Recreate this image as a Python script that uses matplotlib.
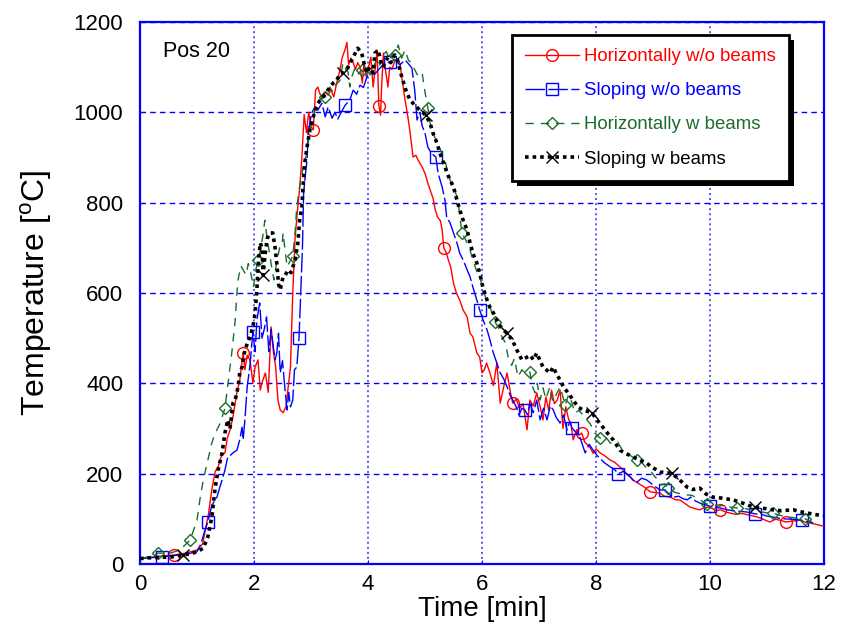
import numpy as np
import matplotlib
matplotlib.use("Agg")
import matplotlib.pyplot as plt
from matplotlib.patches import Rectangle

plt.rcParams['font.family'] = ['Liberation Sans', 'DejaVu Sans']
plt.rcParams['mathtext.fontset'] = 'custom'
plt.rcParams['mathtext.rm'] = 'Liberation Sans'

# ---------------- data ----------------
RED_T = [0.0, 0.2, 0.4, 0.6, 0.8, 1.0, 1.1, 1.2, 1.26, 1.32,
         1.37, 1.43, 1.49, 1.53, 1.58, 1.63, 1.7, 1.75, 1.81, 1.84,
         1.88, 1.93, 1.98, 2.02, 2.07, 2.11, 2.15, 2.2, 2.25, 2.3,
         2.34, 2.38, 2.42, 2.46, 2.51, 2.56, 2.6, 2.64, 2.68, 2.72,
         2.76, 2.8, 2.84, 2.88, 2.92, 2.96, 3.0, 3.04, 3.08, 3.12,
         3.16, 3.2, 3.25, 3.3, 3.35, 3.4, 3.45, 3.5, 3.55, 3.6,
         3.63, 3.66, 3.7, 3.74, 3.78, 3.82, 3.86, 3.9, 3.93, 3.97,
         4.01, 4.05, 4.09, 4.13, 4.16, 4.19, 4.22, 4.24, 4.27, 4.3,
         4.35, 4.38, 4.42, 4.46, 4.5, 4.56, 4.6, 4.65, 4.7, 4.74,
         4.79, 4.84, 4.88, 4.95, 5.0, 5.05, 5.09, 5.14, 5.18, 5.22,
         5.27, 5.3, 5.33, 5.37, 5.41, 5.45, 5.5, 5.55, 5.61, 5.67,
         5.74, 5.79, 5.84, 5.91, 5.96, 6.0, 6.04, 6.08, 6.14, 6.2,
         6.26, 6.32, 6.38, 6.44, 6.5, 6.54, 6.6, 6.66, 6.72, 6.79,
         6.84, 6.9, 6.96, 7.02, 7.07, 7.12, 7.17, 7.22, 7.27, 7.32,
         7.37, 7.42, 7.47, 7.52, 7.56, 7.6, 7.66, 7.7, 7.75, 7.8,
         7.89, 7.95, 8.0, 8.07, 8.15, 8.25, 8.33, 8.42, 8.5, 8.58,
         8.65, 8.75, 8.85, 8.95, 9.05, 9.12, 9.2, 9.3, 9.4, 9.47,
         9.55, 9.65, 9.75, 9.82, 9.9, 10.0, 10.1, 10.18, 10.28, 10.35,
         10.45, 10.55, 10.7, 10.8, 10.88, 10.95, 11.05, 11.15, 11.23, 11.33,
         11.45, 11.58, 11.68, 11.75, 11.85, 11.95, 12.0]
RED_V = [12, 15, 18, 20, 24, 31, 45, 110, 165, 205,
         215, 240, 246, 278, 297, 325, 380, 407, 468, 430,
         462, 452, 400, 436, 452, 385, 405, 423, 380, 525,
         470, 436, 363, 341, 335, 348, 392, 436, 600, 720,
         780, 830, 900, 995, 955, 1000, 968, 961, 1049, 1056,
         1040, 1030, 1045, 1038, 1050, 1034, 1065, 1090, 1122, 1140,
         1155, 1105, 1120, 1110, 1095, 1110, 1100, 1065, 1110, 1078,
         1100, 1122, 1056, 1100, 1138, 1015, 994, 1060, 1131, 1100,
         1056, 1100, 1095, 1110, 1116, 1109, 1071, 1027, 990, 954,
         901, 905, 894, 879, 865, 843, 828, 810, 784, 768,
         760, 740, 700, 690, 673, 658, 622, 600, 584, 562,
         547, 511, 503, 467, 458, 423, 430, 445, 423, 395,
         445, 356, 392, 423, 379, 356, 365, 345, 355, 297,
         363, 350, 379, 348, 319, 370, 340, 385, 355, 363,
         385, 300, 348, 320, 310, 275, 297, 285, 290, 270,
         259, 245, 255, 246, 240, 230, 225, 215, 205, 195,
         186, 178, 170, 160, 158, 157, 150, 148, 142, 142,
         135, 126, 122, 120, 125, 126, 118, 120, 115, 113,
         110, 112, 108, 105, 102, 98, 93, 99, 97, 93,
         95, 97, 92, 91, 88, 85, 84]
RED_MARKS = [0.6, 1.81, 3.04, 4.19, 5.33, 6.54, 7.75, 8.95, 10.18, 11.33]

BLUE_T = [0.0, 0.2, 0.39, 0.55, 0.7, 0.85, 1.0, 1.07, 1.14, 1.19,
          1.26, 1.35, 1.4, 1.45, 1.49, 1.54, 1.58, 1.63, 1.7, 1.75,
          1.79, 1.81, 1.84, 1.88, 1.93, 1.98, 2.02, 2.05, 2.1, 2.14,
          2.18, 2.22, 2.26, 2.3, 2.34, 2.37, 2.4, 2.43, 2.46, 2.5,
          2.54, 2.58, 2.61, 2.64, 2.68, 2.71, 2.75, 2.79, 2.82, 2.85,
          2.87, 2.9, 2.93, 2.95, 3.01, 3.07, 3.12, 3.19, 3.25, 3.3,
          3.37, 3.42, 3.47, 3.53, 3.6, 3.68, 3.74, 3.8, 3.86, 3.92,
          3.98, 4.04, 4.12, 4.21, 4.3, 4.39, 4.47, 4.56, 4.65, 4.7,
          4.77, 4.82, 4.86, 4.91, 4.95, 5.0, 5.05, 5.1, 5.15, 5.19,
          5.23, 5.3, 5.35, 5.38, 5.44, 5.5, 5.56, 5.61, 5.67, 5.74,
          5.79, 5.84, 5.91, 5.96, 6.02, 6.09, 6.14, 6.2, 6.26, 6.32,
          6.38, 6.44, 6.49, 6.54, 6.6, 6.65, 6.7, 6.75, 6.8, 6.84,
          6.9, 6.96, 7.02, 7.08, 7.14, 7.2, 7.25, 7.3, 7.37, 7.43,
          7.49, 7.54, 7.58, 7.66, 7.72, 7.81, 7.88, 7.95, 8.02, 8.1,
          8.16, 8.25, 8.32, 8.39, 8.48, 8.6, 8.7, 8.8, 8.89, 9.0,
          9.12, 9.21, 9.28, 9.35, 9.45, 9.52, 9.6, 9.66, 9.74, 9.82,
          9.9, 10.0, 10.08, 10.18, 10.3, 10.4, 10.5, 10.65, 10.79, 10.9,
          11.0, 11.1, 11.18, 11.3, 11.45, 11.61, 11.7, 11.81]
BLUE_V = [12, 14, 16, 18, 20, 23, 27, 45, 75, 93,
          130, 148, 170, 190, 208, 237, 240, 246, 252, 275,
          303, 275, 319, 392, 440, 514, 470, 540, 578, 500,
          520, 547, 470, 520, 480, 452, 467, 511, 423, 450,
          392, 341, 380, 348, 363, 430, 436, 500, 600, 700,
          820, 860, 894, 954, 998, 1012, 1005, 1020, 990, 1012,
          987, 1000, 985, 1000, 1016, 1027, 1049, 1040, 1060, 1055,
          1078, 1089, 1085, 1098, 1109, 1111, 1116, 1105, 1116, 1109,
          1098, 1049, 983, 1000, 970, 954, 923, 912, 905, 901,
          865, 835, 806, 768, 755, 733, 711, 688, 673, 651,
          636, 613, 584, 562, 540, 518, 496, 467, 445, 423,
          410, 392, 375, 363, 348, 330, 345, 341, 330, 356,
          335, 363, 319, 345, 319, 350, 341, 325, 312, 330,
          297, 315, 301, 290, 280, 246, 265, 252, 240, 230,
          223, 215, 210, 200, 205, 193, 179, 190, 186, 175,
          164, 164, 155, 148, 150, 145, 142, 148, 140, 135,
          132, 128, 126, 124, 120, 118, 117, 115, 111, 110,
          106, 104, 102, 100, 99, 97, 94, 91]
BLUE_MARKS = [0.39, 1.19, 1.98, 2.79, 3.6, 4.39, 5.19, 5.96, 6.75, 7.58,
              8.39, 9.21, 10.0, 10.79, 11.61]

GREEN_T = [0.0, 0.15, 0.32, 0.53, 0.7, 0.88, 1.0, 1.05, 1.11, 1.19,
           1.26, 1.32, 1.4, 1.49, 1.55, 1.61, 1.67, 1.7, 1.72, 1.77,
           1.81, 1.86, 1.9, 1.95, 1.99, 2.03, 2.07, 2.12, 2.16, 2.19,
           2.23, 2.27, 2.31, 2.35, 2.4, 2.45, 2.49, 2.51, 2.55, 2.58,
           2.63, 2.68, 2.72, 2.75, 2.8, 2.85, 2.89, 2.93, 2.98, 3.04,
           3.1, 3.17, 3.25, 3.33, 3.38, 3.43, 3.51, 3.56, 3.61, 3.65,
           3.68, 3.72, 3.77, 3.83, 3.89, 3.95, 4.0, 4.04, 4.1, 4.16,
           4.21, 4.27, 4.32, 4.38, 4.43, 4.47, 4.53, 4.59, 4.65, 4.71,
           4.77, 4.82, 4.88, 4.95, 5.0, 5.05, 5.09, 5.14, 5.21, 5.26,
           5.35, 5.39, 5.44, 5.5, 5.58, 5.61, 5.65, 5.74, 5.79, 5.84,
           5.91, 5.96, 6.02, 6.09, 6.14, 6.23, 6.28, 6.35, 6.41, 6.46,
           6.52, 6.57, 6.63, 6.7, 6.77, 6.84, 6.88, 6.93, 6.97, 7.02,
           7.07, 7.12, 7.19, 7.24, 7.3, 7.37, 7.46, 7.52, 7.57, 7.63,
           7.7, 7.77, 7.84, 7.9, 7.98, 8.07, 8.15, 8.25, 8.3, 8.38,
           8.45, 8.55, 8.63, 8.72, 8.8, 8.87, 8.95, 9.02, 9.1, 9.15,
           9.2, 9.26, 9.33, 9.4, 9.5, 9.6, 9.68, 9.75, 9.85, 9.94,
           10.05, 10.15, 10.25, 10.35, 10.47, 10.6, 10.72, 10.85, 11.0, 11.1,
           11.22, 11.35, 11.45, 11.55, 11.67, 11.75, 11.81]
GREEN_V = [12, 16, 24, 24, 31, 53, 97, 142, 186, 230,
           268, 290, 310, 345, 407, 467, 540, 600, 629, 660,
           651, 640, 665, 640, 613, 650, 673, 700, 730, 761,
           720, 690, 658, 629, 670, 700, 702, 733, 690, 658,
           670, 682, 733, 790, 835, 870, 894, 910, 961, 990,
           1020, 1030, 1034, 1056, 1045, 1060, 1071, 1109, 1095, 1089,
           1056, 1080, 1098, 1085, 1094, 1080, 1090, 1083, 1100, 1122,
           1105, 1127, 1135, 1115, 1130, 1127, 1149, 1120, 1138, 1115,
           1109, 1094, 1080, 1087, 1045, 1010, 976, 954, 934, 920,
           894, 872, 850, 835, 806, 768, 733, 711, 695, 673,
           647, 636, 607, 580, 569, 536, 525, 503, 490, 458,
           440, 455, 414, 430, 420, 425, 395, 379, 400, 363,
           390, 365, 392, 360, 375, 392, 352, 375, 360, 334,
           340, 330, 319, 310, 290, 279, 285, 268, 265, 270,
           255, 245, 238, 230, 225, 215, 208, 195, 185, 175,
           178, 168, 162, 158, 155, 153, 152, 148, 140, 133,
           132, 128, 130, 126, 124, 123, 120, 117, 113, 113,
           108, 104, 103, 100, 100, 95, 91]
GREEN_MARKS = [0.32, 0.88, 1.49, 2.07, 2.68, 3.25, 3.89, 4.47, 5.05, 5.65,
               6.23, 6.84, 7.46, 8.07, 8.72, 9.26, 9.94, 10.47, 11.1, 11.67]

BLACK_T = [0.0, 0.2, 0.4, 0.53, 0.76, 0.9, 1.0, 1.11, 1.19, 1.26,
           1.32, 1.37, 1.44, 1.49, 1.54, 1.58, 1.63, 1.67, 1.72, 1.75,
           1.79, 1.84, 1.93, 1.98, 2.02, 2.05, 2.08, 2.11, 2.14, 2.16,
           2.19, 2.23, 2.28, 2.33, 2.37, 2.4, 2.43, 2.46, 2.51, 2.55,
           2.6, 2.65, 2.72, 2.77, 2.8, 2.84, 2.86, 2.89, 2.93, 2.98,
           3.04, 3.12, 3.21, 3.3, 3.39, 3.45, 3.51, 3.56, 3.65, 3.74,
           3.82, 3.89, 3.93, 3.98, 4.03, 4.09, 4.12, 4.18, 4.22, 4.26,
           4.35, 4.4, 4.47, 4.52, 4.56, 4.61, 4.68, 4.74, 4.82, 4.91,
           5.01, 5.09, 5.14, 5.21, 5.26, 5.32, 5.39, 5.44, 5.5, 5.56,
           5.61, 5.67, 5.74, 5.79, 5.84, 5.91, 5.96, 6.02, 6.09, 6.14,
           6.2, 6.28, 6.36, 6.44, 6.53, 6.61, 6.7, 6.79, 6.85, 6.9,
           6.96, 7.02, 7.07, 7.13, 7.19, 7.25, 7.31, 7.37, 7.43, 7.51,
           7.6, 7.68, 7.77, 7.85, 7.93, 8.02, 8.12, 8.2, 8.3, 8.42,
           8.52, 8.65, 8.77, 8.89, 9.0, 9.12, 9.22, 9.33, 9.47, 9.6,
           9.7, 9.82, 9.93, 10.05, 10.2, 10.4, 10.55, 10.67, 10.79, 10.9,
           11.1, 11.25, 11.46, 11.58, 11.7, 11.82, 11.93, 12.0]
BLACK_V = [12, 14, 15, 15, 20, 23, 27, 35, 60, 104,
           170, 208, 246, 290, 319, 300, 356, 363, 392, 423,
           436, 474, 503, 525, 556, 607, 673, 711, 700, 640,
           680, 720, 733, 733, 700, 666, 620, 607, 636, 640,
           651, 645, 673, 711, 761, 790, 835, 887, 923, 961,
           990, 1020, 1034, 1050, 1065, 1071, 1085, 1087, 1100, 1122,
           1142, 1131, 1109, 1087, 1100, 1087, 1131, 1138, 1115, 1100,
           1122, 1110, 1127, 1115, 1094, 1071, 1043, 1027, 1016, 1005,
           994, 976, 954, 932, 910, 890, 865, 850, 835, 806,
           784, 761, 739, 711, 688, 666, 644, 610, 584, 568,
           556, 533, 520, 511, 496, 474, 452, 458, 462, 452,
           467, 450, 436, 430, 423, 436, 420, 407, 392, 379,
           363, 348, 341, 338, 334, 319, 303, 290, 275, 252,
           245, 237, 230, 223, 213, 204, 202, 201, 186, 170,
           165, 168, 155, 148, 146, 142, 136, 130, 126, 124,
           120, 118, 120, 116, 113, 110, 108, 107]
BLACK_MARKS = [0.76, 2.16, 3.56, 5.01, 6.44, 7.93, 9.33, 10.79]

LABELS = ["Horizontally w/o beams", "Sloping w/o beams",
          "Horizontally w beams", "Sloping w beams"]
X_TICKS = [0, 2, 4, 6, 8, 10, 12]
Y_TICKS = [0, 200, 400, 600, 800, 1000, 1200]

RED = '#ff0000'
BLUE = '#0000ff'
GREEN = '#1a6e2a'
BLACK = '#000000'


def mark_idx(t, marks):
    t = np.asarray(t)
    return [int(np.argmin(np.abs(t - m))) for m in marks]


fig = plt.figure(figsize=(8.44, 6.43), dpi=100)
ax = fig.add_axes([140 / 844, 1 - 564 / 643, 684 / 844, 542 / 643])

ax.plot(RED_T, RED_V, color=RED, lw=1.0, marker='o', ms=8.5, mfc='none',
        mec=RED, mew=1.0, markevery=mark_idx(RED_T, RED_MARKS), label=LABELS[0], zorder=3)
ax.plot(BLUE_T, BLUE_V, color=BLUE, lw=1.0, linestyle=(0, (14, 2.5)), marker='s', ms=8.5,
        mfc='none', mec=BLUE, mew=1.0, markevery=mark_idx(BLUE_T, BLUE_MARKS),
        label=LABELS[1], zorder=3)
ax.plot(GREEN_T, GREEN_V, color=GREEN, lw=1.0, linestyle=(0, (6, 5)), marker='D', ms=6.5,
        mfc='none', mec=GREEN, mew=1.0, markevery=mark_idx(GREEN_T, GREEN_MARKS),
        label=LABELS[2], zorder=3)
ax.plot(BLACK_T, BLACK_V, color=BLACK, lw=2.6, linestyle=(0, (1, 1.1)),
        dash_capstyle='butt', marker='x', ms=9, mew=1.0, mec=BLACK,
        markevery=mark_idx(BLACK_T, BLACK_MARKS), label=LABELS[3], zorder=4)

ax.set_xlim(0, 12)
ax.set_ylim(0, 1200)
ax.set_xticks(X_TICKS)
ax.set_yticks(Y_TICKS)
ax.tick_params(labelsize=16, direction='in', length=3, color=BLUE)
ax.tick_params(axis='y', pad=12)
ax.tick_params(axis='x', pad=7)
ax.set_xlabel("Time [min]", fontsize=20, labelpad=1)
ax.set_ylabel("Temperature [$^{\\mathrm{o}}$C]", fontsize=23, labelpad=14)

ax.yaxis.grid(True, color=BLUE, linestyle=(0, (4, 3)), lw=1.0)
ax.xaxis.grid(True, color='#5a5af0', linestyle=(0, (1, 1.6)), lw=1.4)
ax.set_axisbelow(True)
for s in ax.spines.values():
    s.set_color(BLUE)
    s.set_linewidth(1.6)

ax.text(0.034, 0.945, "Pos 20", transform=ax.transAxes, fontsize=15.5,
        ha='left', va='center')

leg = ax.legend(loc='upper right', bbox_to_anchor=(0.949, 0.976), borderaxespad=0,
                fontsize=13.4, handlelength=2.9, handletextpad=0.3, labelspacing=0.92,
                borderpad=0.7, numpoints=1, labelcolor='linecolor', fancybox=False,
                framealpha=1)
leg.get_frame().set_edgecolor('black')
leg.get_frame().set_linewidth(2.0)
leg.set_zorder(6)

# shadow behind the legend box
fig.canvas.draw()
bb = leg.get_window_extent()
inv = ax.transAxes.inverted()
(x0, y0) = inv.transform((bb.x0 + 5, bb.y0 - 5))
(x1, y1) = inv.transform((bb.x1 + 5, bb.y1 - 5))
ax.add_patch(Rectangle((x0, y0), x1 - x0, y1 - y0, transform=ax.transAxes,
                       facecolor='black', edgecolor='none', zorder=5.5, clip_on=False))

fig.savefig("out.png", dpi=100)
